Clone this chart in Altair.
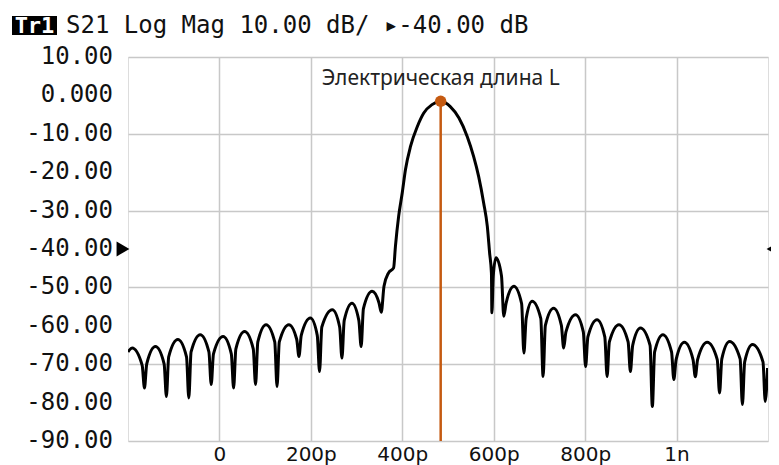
import altair as alt
import pandas as pd

# Time axis (ps) and S21 magnitude (dB)
T_PS = [-200, -191, -169, -164, -159, -140, -121, -116, -111, -91, -72, -67, -62, -42,
        -23, -18, -13, 8, 26, 31, 36, 55, 74, 79, 84, 102, 121, 126, 131, 152, 169, 174,
        179, 199, 214, 219, 224, 247, 263, 268, 273, 290, 305, 310, 315, 334, 349, 354,
        360, 370, 381, 385, 392, 400, 407, 418, 433, 447, 465, 484, 505, 524, 542, 556,
        567, 578, 586, 591, 595, 596, 599, 605, 617, 622, 627, 644, 661, 666, 671, 684,
        703, 708, 713, 731, 748, 753, 758, 779, 796, 801, 806, 826, 843, 848, 853, 874,
        894, 899, 904, 921, 942, 947, 952, 970, 989, 994, 999, 1017, 1036, 1041, 1046,
        1067, 1089, 1094, 1099, 1116, 1139, 1144, 1149, 1166, 1189, 1194, 1199]
S21_DB = [-66.8, -65.8, -70.3, -76.2, -69.9, -65.4, -69.9, -78.4, -68.1, -63.6, -68.1, -78.8,
          -66.8, -62.3, -66.8, -75.3, -67.3, -62.8, -67.3, -76.2, -66.0, -61.5, -66.0, -75.3,
          -64.2, -59.7, -64.2, -75.8, -64.2, -59.7, -63.5, -68.0, -62.5, -58.0, -62.5, -71.9,
          -60.3, -55.8, -60.3, -68.4, -58.6, -54.1, -58.6, -65.4, -55.5, -51.0, -54.0, -56.5,
          -49.7, -46.2, -44.9, -39.3, -31.5, -25.3, -19.3, -13.3, -8.1, -4.6, -2.4, -1.6,
          -2.9, -5.9, -10.7, -15.9, -21.1, -28.0, -34.1, -41.0, -46.3, -56.6, -47.0, -42.3,
          -47.0, -57.5, -54.2, -49.7, -54.2, -67.1, -58.1, -53.6, -58.1, -73.2, -59.9, -55.4,
          -59.9, -65.8, -61.6, -57.1, -61.6, -70.6, -62.9, -58.4, -62.9, -73.2, -64.2, -59.7,
          -64.2, -71.9, -65.1, -60.6, -65.1, -81.0, -66.8, -62.3, -66.8, -74.0, -68.8, -64.3,
          -68.8, -73.3, -68.8, -64.3, -68.8, -77.5, -68.6, -64.1, -68.6, -80.5, -69.4, -64.9,
          -69.4, -79.7, -71.0]

X_TICKS = [0, 200, 400, 600, 800, 1000]
Y_TICKS = [10, 0, -10, -20, -30, -40, -50, -60, -70, -80, -90]
Y_LABELS = ["10.00", "0.000", "-10.00", "-20.00", "-30.00", "-40.00",
            "-50.00", "-60.00", "-70.00", "-80.00", "-90.00"]
X_DOMAIN = [-200, 1200]
Y_DOMAIN = [-90, 10]

MARKER_T = [484]
MARKER_DB = [-1.5]
MARKER_LABEL = ["Электрическая длина L"]
REF_LEVEL = [-40]

HEADER_TAG = "Tr1"
HEADER_TEXT = "S21 Log Mag 10.00 dB/ \u25b8-40.00 dB"

ORANGE = "#c55a11"

trace = pd.DataFrame({"t": T_PS, "db": S21_DB})
marker = pd.DataFrame({"t": MARKER_T, "db": MARKER_DB, "label": MARKER_LABEL, "bottom": [Y_DOMAIN[0]]})
ref = pd.DataFrame({"db": REF_LEVEL})
ylab = pd.DataFrame({"db": Y_TICKS, "txt": Y_LABELS})

xscale = alt.Scale(domain=X_DOMAIN, nice=False, zero=False)
yscale = alt.Scale(domain=Y_DOMAIN, nice=False, zero=False)

xaxis = alt.Axis(values=X_TICKS, title=None, domain=False, ticks=False,
                 labelExpr="datum.value == 0 ? '0' : (datum.value == 1000 ? '1n' : datum.value + 'p')",
                 labelFont="DejaVu Sans", labelFontSize=20, labelColor="#111111",
                 labelPadding=3, labelFlush=False,
                 grid=True, gridColor="#c8c8c8", gridWidth=1.5)
yaxis = alt.Axis(values=Y_TICKS, title=None, domain=False, ticks=False, labels=False,
                 grid=True, gridColor="#c8c8c8", gridWidth=1.5)

line = alt.Chart(trace).mark_line(color="black", strokeWidth=3, interpolate="monotone", clip=True).encode(
    x=alt.X("t:Q", scale=xscale, axis=xaxis),
    y=alt.Y("db:Q", scale=yscale, axis=yaxis),
)

ylabels = alt.Chart(ylab).mark_text(font="DejaVu Sans Mono", fontSize=24, color="#111111",
                                    align="right", baseline="middle").encode(
    x=alt.value(-15), y="db:Q", text="txt:N"
)

rule = alt.Chart(marker).mark_rule(color=ORANGE, strokeWidth=2.5).encode(
    x="t:Q", y="db:Q", y2="bottom:Q"
)

dot = alt.Chart(marker).mark_point(filled=True, color=ORANGE, size=130, opacity=1, shape="circle").encode(
    x="t:Q", y="db:Q"
)

label = alt.Chart(marker).mark_text(font="Noto Sans", fontSize=21, color="#222222",
                                    baseline="middle", align="center", dy=-22).encode(
    x="t:Q", y="db:Q", text="label:N"
)

left_arrow = alt.Chart(ref).mark_point(shape="triangle-right", filled=True, color="black",
                                       size=220, opacity=1).encode(
    x=alt.value(-5), y="db:Q"
)
right_arrow = alt.Chart(ref).mark_point(shape="triangle-left", filled=True, color="black",
                                        size=220, opacity=1).encode(
    x=alt.value(645), y="db:Q"
)

tag_box = alt.Chart(ref).mark_rect(color="black").encode(
    x=alt.value(-116), x2=alt.value(-71), y=alt.value(-41), y2=alt.value(-22)
)
tag_text = alt.Chart(ref).mark_text(text=HEADER_TAG, font="DejaVu Sans Mono", fontSize=22,
                                    fontWeight="bold", color="white", align="center",
                                    baseline="middle").encode(
    x=alt.value(-93.5), y=alt.value(-31)
)
header = alt.Chart(ref).mark_text(text=HEADER_TEXT, font="DejaVu Sans Mono", fontSize=24,
                                  color="#111111", align="left", baseline="middle").encode(
    x=alt.value(-62), y=alt.value(-31)
)

chart = alt.layer(line, ylabels, rule, dot, label, left_arrow, right_arrow, tag_box, tag_text, header).properties(
    width=640, height=384,
    autosize=alt.AutoSizeParams(type="none"),
    padding={"left": 120, "top": 49, "right": 3, "bottom": 24},
).configure_view(stroke="#505050", strokeWidth=2).configure(background="white")

chart.save("out.html", embed_options={"renderer": "svg", "actions": False})
